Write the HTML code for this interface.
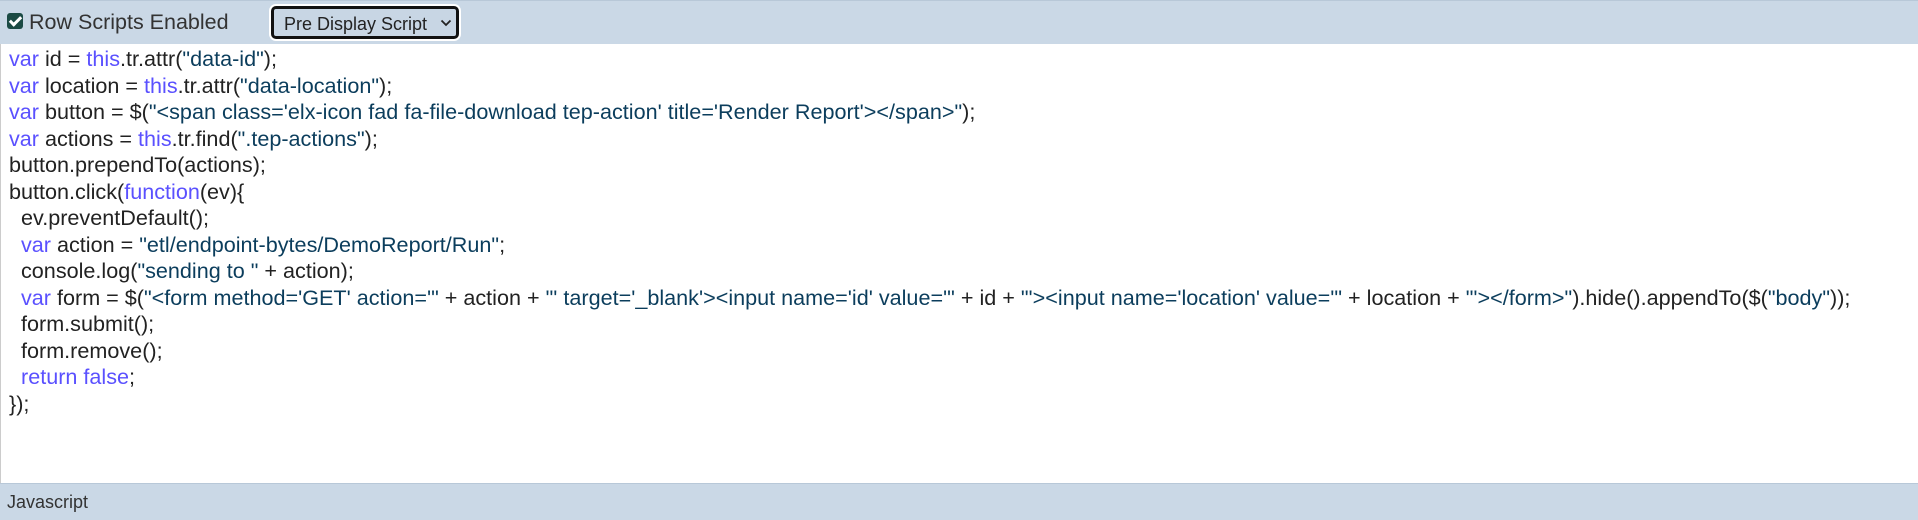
<!DOCTYPE html>
<html><head><meta charset="utf-8"><style>
html,body{margin:0;padding:0;width:1918px;height:520px;overflow:hidden;background:#fff;font-family:"Liberation Sans",Arial,sans-serif;}
.hdr{position:absolute;left:0;top:0;width:1918px;height:44px;background:#cad8e6;border-top:1px solid #b8c8d8;box-sizing:border-box;}
.cb{position:absolute;left:7px;top:12px;width:16px;height:16px;background:#1b4a44;border-radius:3px;}
.cb:after{content:"";position:absolute;left:5px;top:1px;width:4px;height:9px;border:solid #fff;border-width:0 3px 3px 0;transform:rotate(45deg);}
.lbl{position:absolute;left:29px;top:9px;font-size:21.5px;color:#333;}
.sel{position:absolute;left:271px;top:5px;width:188px;height:33px;box-sizing:border-box;border:3px solid #111;border-radius:5px;background:#c8d6e4;box-shadow:0 0 0 2px #fff;font-size:18px;color:#222;padding:5px 0 0 10px;}
.sel svg{position:absolute;right:4px;top:10px;}
.code{position:absolute;left:0;top:44px;width:1918px;height:439px;border-left:1px solid #ccc;box-sizing:border-box;}
pre{margin:0;position:absolute;left:8px;top:2px;font-family:"Liberation Sans",Arial,sans-serif;font-size:21.6px;line-height:26.5px;color:#222;white-space:pre;}
.k{color:#5a50ff}.s{color:#0b3d5c}
.ftr{position:absolute;left:0;top:483px;width:1918px;height:37px;background:#cad8e6;border-top:1px solid #b8c8d8;box-sizing:border-box;font-size:18px;color:#333;padding:8px 0 0 7px;}
</style></head><body>
<div class="hdr"><div class="cb"></div><div class="lbl">Row Scripts Enabled</div>
<div class="sel">Pre Display Script <svg width="12" height="8" viewBox="0 0 12 8"><path d="M1.5 1.5 L6 6 L10.5 1.5" fill="none" stroke="#222" stroke-width="1.8"/></svg></div></div>
<div class="code"><pre><span class="k">var</span> id = <span class="k">this</span>.tr.attr(<span class="s">"data-id"</span>);
<span class="k">var</span> location = <span class="k">this</span>.tr.attr(<span class="s">"data-location"</span>);
<span class="k">var</span> button = $(<span class="s">"&lt;span class='elx-icon fad fa-file-download tep-action' title='Render Report'&gt;&lt;/span&gt;"</span>);
<span class="k">var</span> actions = <span class="k">this</span>.tr.find(<span class="s">".tep-actions"</span>);
button.prependTo(actions);
button.click(<span class="k">function</span>(ev){
  ev.preventDefault();
  <span class="k">var</span> action = <span class="s">"etl/endpoint-bytes/DemoReport/Run"</span>;
  console.log(<span class="s">"sending to "</span> + action);
  <span class="k">var</span> form = $(<span class="s">"&lt;form method='GET' action='"</span> + action + <span class="s">"' target='_blank'&gt;&lt;input name='id' value='"</span> + id + <span class="s">"'&gt;&lt;input name='location' value='"</span> + location + <span class="s">"'&gt;&lt;/form&gt;"</span>).hide().appendTo($(<span class="s">"body"</span>));
  form.submit();
  form.remove();
  <span class="k">return false</span>;
});</pre></div>
<div class="ftr">Javascript</div>
</body></html>
